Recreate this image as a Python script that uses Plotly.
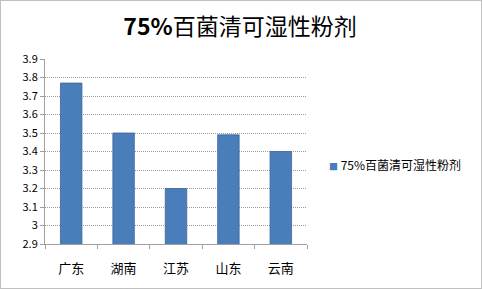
import plotly.graph_objects as go

categories = ["广东", "湖南", "江苏", "山东", "云南"]
values = [3.77, 3.50, 3.20, 3.49, 3.40]
series_name = "75%百菌清可湿性粉剂"
title_bold = "75%"
title_rest = "百菌清可湿性粉剂"
y_ticks = [2.9, 3.0, 3.1, 3.2, 3.3, 3.4, 3.5, 3.6, 3.7, 3.8, 3.9]
y_tick_labels = ["2.9", "3", "3.1", "3.2", "3.3", "3.4", "3.5", "3.6", "3.7", "3.8", "3.9"]

W, H = 482, 289
L, R, T, B = 45, 175, 59, 45
pw, ph = W - L - R, H - T - B

font = "Noto Sans CJK SC, Liberation Sans, sans-serif"
bar_color = "#4a7ebb"

fig = go.Figure()
fig.add_trace(go.Bar(
    x=categories, y=values, name=series_name,
    marker=dict(color=bar_color, line=dict(color="#3a659a", width=0.8)),
    showlegend=False,
))

fig.update_layout(
    width=W, height=H,
    margin=dict(l=L, r=R, t=T, b=B, autoexpand=False),
    paper_bgcolor="white", plot_bgcolor="white",
    bargap=0.59,
    title=dict(text="<b>" + title_bold + "</b>" + title_rest, x=240 / W, xanchor="center",
               y=1 - 27 / H, yanchor="middle",
               font=dict(family=font, size=23, color="#000000")),
    showlegend=False,
    font=dict(family=font, size=11, color="#000"),
)

# legend entry drawn as an annotation (small square + label)
fig.add_annotation(
    xref="paper", yref="paper", x=(327 - L) / pw, y=(H - B - 164) / ph,
    xanchor="left", yanchor="middle", showarrow=False,
    text="<span style='color:%s;font-size:9px'>■</span> %s" % (bar_color, series_name),
    font=dict(family=font, size=12, color="#000"),
)

fig.update_yaxes(
    range=[2.9, 3.9], tickvals=y_ticks, ticktext=y_tick_labels,
    showgrid=True, gridcolor="#9a9a9a", griddash="1px,1px", gridwidth=1,
    showline=True, linecolor="#a0a0a0", linewidth=1,
    ticks="outside", ticklen=4, tickcolor="#a0a0a0",
    tickfont=dict(family=font, size=11, color="#000"),
    zeroline=False,
)
fig.update_xaxes(
    showline=True, linecolor="#a0a0a0", linewidth=1,
    ticks="outside", ticklen=4, tickcolor="#a0a0a0", tickson="boundaries",
    tickfont=dict(family=font, size=13, color="#000"),
    ticklabelstandoff=12,
    showgrid=False,
)

# dotted outer border of the chart area
fig.add_shape(type="rect", xref="paper", yref="paper",
              x0=(0.5 - L) / pw, x1=(W - 0.5 - L) / pw,
              y0=-(B - 0.5) / ph, y1=(H - B - 0.5) / ph,
              line=dict(color="#808080", width=1, dash="1px,1px"),
              fillcolor="rgba(0,0,0,0)", layer="above")

fig.write_html("out.html")
